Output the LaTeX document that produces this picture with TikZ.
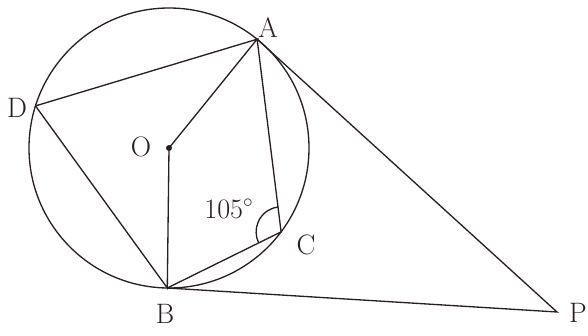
\documentclass[tikz,border=0pt]{standalone}
\usetikzlibrary{calc,angles}
\definecolor{ink}{RGB}{40,30,32}
\begin{document}
\begin{tikzpicture}[x=0.02cm,y=0.02cm,
  geo/.style={draw=ink,line width=0.75pt},
  lbl/.style={text=ink,font=\fontsize{16}{18}\selectfont,inner sep=0pt}]
\useasboundingbox (0,0) rectangle (588,-335);
\coordinate (O) at (169,-148);
\coordinate (A) at ($(O)+(51:140)$);
\coordinate (D) at ($(O)+(162.5:140)$);
\coordinate (B) at ($(O)+(269.3:140)$);
\coordinate (C) at ($(O)+(-36.8:140)$);
\coordinate (P) at (557,-312);
\draw[geo] (O) circle[radius=140];
\draw[geo] (D) -- (A) -- (O) -- (B) -- (D);
\draw[geo] (A) -- (C) -- (B);
\draw[geo] (A) -- (P) -- (B);
\pic[geo,angle radius=0.5cm] {angle=A--C--B};
\fill[ink] (O) circle[radius=3];
\node[lbl] (lA) at (268,-28) {A};
\node[lbl] (lD) at (17,-108) {D};
\node[lbl] (lO) at (141,-147) {O};
\node[lbl] (lB) at (165,-314) {B};
\node[lbl] (lC) at (306,-245) {C};
\node[lbl] (lP) at (578,-313) {P};
\node[lbl] (lang) at (229,-209) {105$^\circ$};
\end{tikzpicture}
\end{document}
